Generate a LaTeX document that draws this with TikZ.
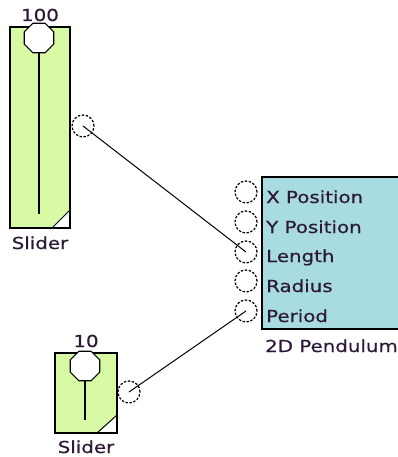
\documentclass[tikz,border=0pt]{standalone}
\usepackage{fontspec}
\setmainfont{DejaVu Sans}[FakeStretch=1.2,FakeBold=0.6]
\usetikzlibrary{calc}
\definecolor{sliderfill}{RGB}{217,250,165}
\definecolor{pendfill}{RGB}{168,220,224}
\definecolor{txt}{RGB}{45,25,55}
\tikzset{
 lbl/.style={font=\fontsize{16.5}{18}\selectfont, text=txt, inner sep=0pt},
 port/.style={circle, draw=black, dash pattern=on 2.4pt off 1.6pt, minimum size=22pt, inner sep=0pt, line width=1.2pt},
 knobpt/.style={circle, minimum size=30pt, inner sep=0pt},
 knobline/.style={draw=black, fill=white, line width=1.1pt},
 frame/.style={draw=black, line width=1.5pt},
 wire/.style={draw=black, line width=1pt},
 track/.style={draw=black, line width=1.5pt}
}
\newcommand{\octknob}[2]{%
  \draw[knobline] ($(#1)+(22.5:#2)$) -- ($(#1)+(67.5:#2)$) -- ($(#1)+(112.5:#2)$) -- ($(#1)+(157.5:#2)$) -- ($(#1)+(202.5:#2)$) -- ($(#1)+(247.5:#2)$) -- ($(#1)+(292.5:#2)$) -- ($(#1)+(337.5:#2)$) -- cycle;}
\begin{document}
\begin{tikzpicture}[x=1pt,y=-1pt]
\useasboundingbox (0,0) rectangle (398,457);
% Slider 1
\fill[sliderfill] (10,27) rectangle (70,228);
\draw[track] (39,38) -- (39,214);
\fill[white] (52,228) -- (70,210) -- (70,228) -- cycle;
\draw[line width=1pt] (52,228) -- (70,210);
\draw[frame] (10,27) rectangle (70,228);
\node[knobpt] (k1) at (39,38) {};
\octknob{k1}{16}
\node[lbl, anchor=base] (v1) at (40,21) {100};
\node[lbl, anchor=base] (s1) at (40,249) {Slider};
\node[port] (o1) at (83,126) {};
% Slider 2
\fill[sliderfill] (55,353) rectangle (117,433);
\draw[track] (85,367) -- (85,420);
\fill[white] (97,433) -- (117,415) -- (117,433) -- cycle;
\draw[line width=1pt] (97,433) -- (117,415);
\draw[frame] (55,353) rectangle (117,433);
\node[knobpt] (k2) at (85,366) {};
\octknob{k2}{16}
\node[lbl, anchor=base] (v2) at (86,347) {10};
\node[lbl, anchor=base] (s2) at (86,453) {Slider};
\node[port] (o2) at (129,392) {};
% Pendulum
\fill[pendfill] (262,177) rectangle (402,329);
\draw[frame] (262,177) rectangle (402,329);
\node[port] (px) at (246,192) {};
\node[port] (py) at (246,222) {};
\node[port] (pl) at (246,252) {};
\node[port] (pr) at (246,281) {};
\node[port] (pp) at (246,311) {};
\node[lbl, anchor=base west] (tx) at (266,203) {X Position};
\node[lbl, anchor=base west] (ty) at (266,233) {Y Position};
\node[lbl, anchor=base west] (tl) at (266,262) {Length};
\node[lbl, anchor=base west] (tr) at (266,292) {Radius};
\node[lbl, anchor=base west] (tp) at (266,322) {Period};
\node[lbl, anchor=base west] (tn) at (265,352) {2D Pendulum};
% wires
\draw[wire] (o1.center) -- (pl.center);
\draw[wire] (o2.center) -- (pp.center);
\end{tikzpicture}
\end{document}
